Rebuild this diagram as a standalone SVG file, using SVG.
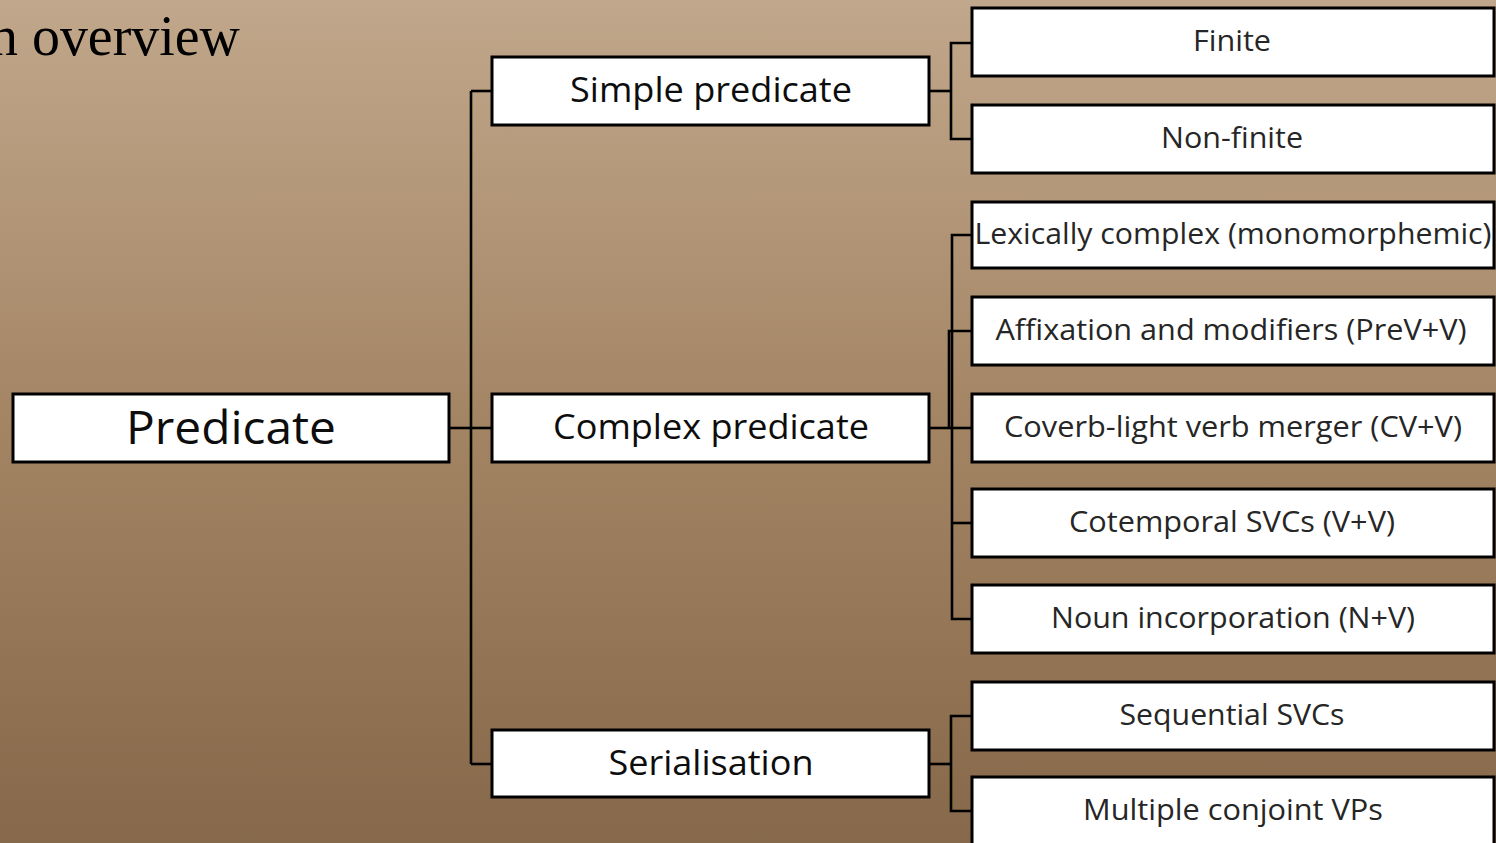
<svg xmlns="http://www.w3.org/2000/svg" width="1496" height="843" viewBox="0 0 1496 843">
  <defs>
    <linearGradient id="bg" x1="0" y1="0" x2="0" y2="1">
      <stop offset="0" stop-color="#C1A78B"/>
      <stop offset="0.5" stop-color="#A38564"/>
      <stop offset="1" stop-color="#86684A"/>
    </linearGradient>
    <style>
      .box { fill: #FFFFFF; stroke: #000000; stroke-width: 3; }
      .wire { fill: none; stroke: #000000; stroke-width: 2.6; }
      .lbl { font-family: "Open Sans", "Noto Sans", "Liberation Sans", sans-serif; text-anchor: middle; }
      .l1 { font-size: 46px; fill: #0D0D0D; }
      .l2 { font-size: 35px; fill: #0D0D0D; }
      .l3 { font-size: 29px; fill: #262626; }
      .title { font-family: "Liberation Serif", "DejaVu Serif", serif; font-size: 58px; fill: #000000; }
    </style>
  </defs>

  <rect x="0" y="0" width="1496" height="843" fill="url(#bg)"/>

  <text class="title" x="-10" y="55" textLength="250" lengthAdjust="spacingAndGlyphs">n overview</text>

  <!-- connectors -->
  <g id="connectors">
    <!-- root to second level -->
    <path class="wire" d="M449,428 H471"/>
    <path class="wire" d="M471,91 V764"/>
    <path class="wire" d="M471,91 H492"/>
    <path class="wire" d="M471,428 H492"/>
    <path class="wire" d="M471,764 H492"/>
    <!-- simple predicate children -->
    <path class="wire" d="M929,91 H951"/>
    <path class="wire" d="M972,43 H951 V139 H972"/>
    <!-- complex predicate children -->
    <path class="wire" d="M929,428 H951"/>
    <path class="wire" d="M972,235 H952 V619 H972"/>
    <path class="wire" d="M972,331 H949 V428"/>
    <path class="wire" d="M951,428 H972"/>
    <path class="wire" d="M951,523 H972"/>
    <!-- serialisation children -->
    <path class="wire" d="M929,764 H951"/>
    <path class="wire" d="M972,716 H951 V811 H972"/>
  </g>

  <g id="node-predicate">
    <rect class="box" x="13" y="394" width="436" height="68"/>
    <text class="lbl l1" x="231" y="444" textLength="210" lengthAdjust="spacingAndGlyphs">Predicate</text>
  </g>

  <g id="node-simple">
    <rect class="box" x="492" y="57" width="437" height="68"/>
    <text class="lbl l2" x="711" y="102" textLength="282" lengthAdjust="spacingAndGlyphs">Simple predicate</text>
  </g>
  <g id="node-complex">
    <rect class="box" x="492" y="394" width="437" height="68"/>
    <text class="lbl l2" x="711" y="439" textLength="316" lengthAdjust="spacingAndGlyphs">Complex predicate</text>
  </g>
  <g id="node-serialisation">
    <rect class="box" x="492" y="730" width="437" height="67"/>
    <text class="lbl l2" x="711" y="775" textLength="205" lengthAdjust="spacingAndGlyphs">Serialisation</text>
  </g>

  <g id="node-finite">
    <rect class="box" x="972" y="8" width="522" height="68"/>
    <text class="lbl l3" x="1232" y="51" textLength="78" lengthAdjust="spacingAndGlyphs">Finite</text>
  </g>
  <g id="node-nonfinite">
    <rect class="box" x="972" y="105" width="522" height="68"/>
    <text class="lbl l3" x="1232" y="148" textLength="142" lengthAdjust="spacingAndGlyphs">Non-finite</text>
  </g>
  <g id="node-lexically">
    <rect class="box" x="972" y="202" width="522" height="66"/>
    <text class="lbl l3" x="1233" y="244" textLength="517" lengthAdjust="spacingAndGlyphs">Lexically complex (monomorphemic)</text>
  </g>
  <g id="node-affixation">
    <rect class="box" x="972" y="297" width="522" height="68"/>
    <text class="lbl l3" x="1231" y="340" textLength="471" lengthAdjust="spacingAndGlyphs">Affixation and modifiers (PreV+V)</text>
  </g>
  <g id="node-coverb">
    <rect class="box" x="972" y="394" width="522" height="68"/>
    <text class="lbl l3" x="1233" y="437" textLength="458" lengthAdjust="spacingAndGlyphs">Coverb-light verb merger (CV+V)</text>
  </g>
  <g id="node-cotemporal">
    <rect class="box" x="972" y="489" width="522" height="68"/>
    <text class="lbl l3" x="1232" y="532" textLength="326" lengthAdjust="spacingAndGlyphs">Cotemporal SVCs (V+V)</text>
  </g>
  <g id="node-noun">
    <rect class="box" x="972" y="585" width="522" height="68"/>
    <text class="lbl l3" x="1233" y="628" textLength="364" lengthAdjust="spacingAndGlyphs">Noun incorporation (N+V)</text>
  </g>
  <g id="node-sequential">
    <rect class="box" x="972" y="682" width="522" height="68"/>
    <text class="lbl l3" x="1232" y="725" textLength="225" lengthAdjust="spacingAndGlyphs">Sequential SVCs</text>
  </g>
  <g id="node-multiple">
    <rect class="box" x="972" y="777" width="522" height="90"/>
    <text class="lbl l3" x="1233" y="820" textLength="300" lengthAdjust="spacingAndGlyphs">Multiple conjoint VPs</text>
  </g>
</svg>
